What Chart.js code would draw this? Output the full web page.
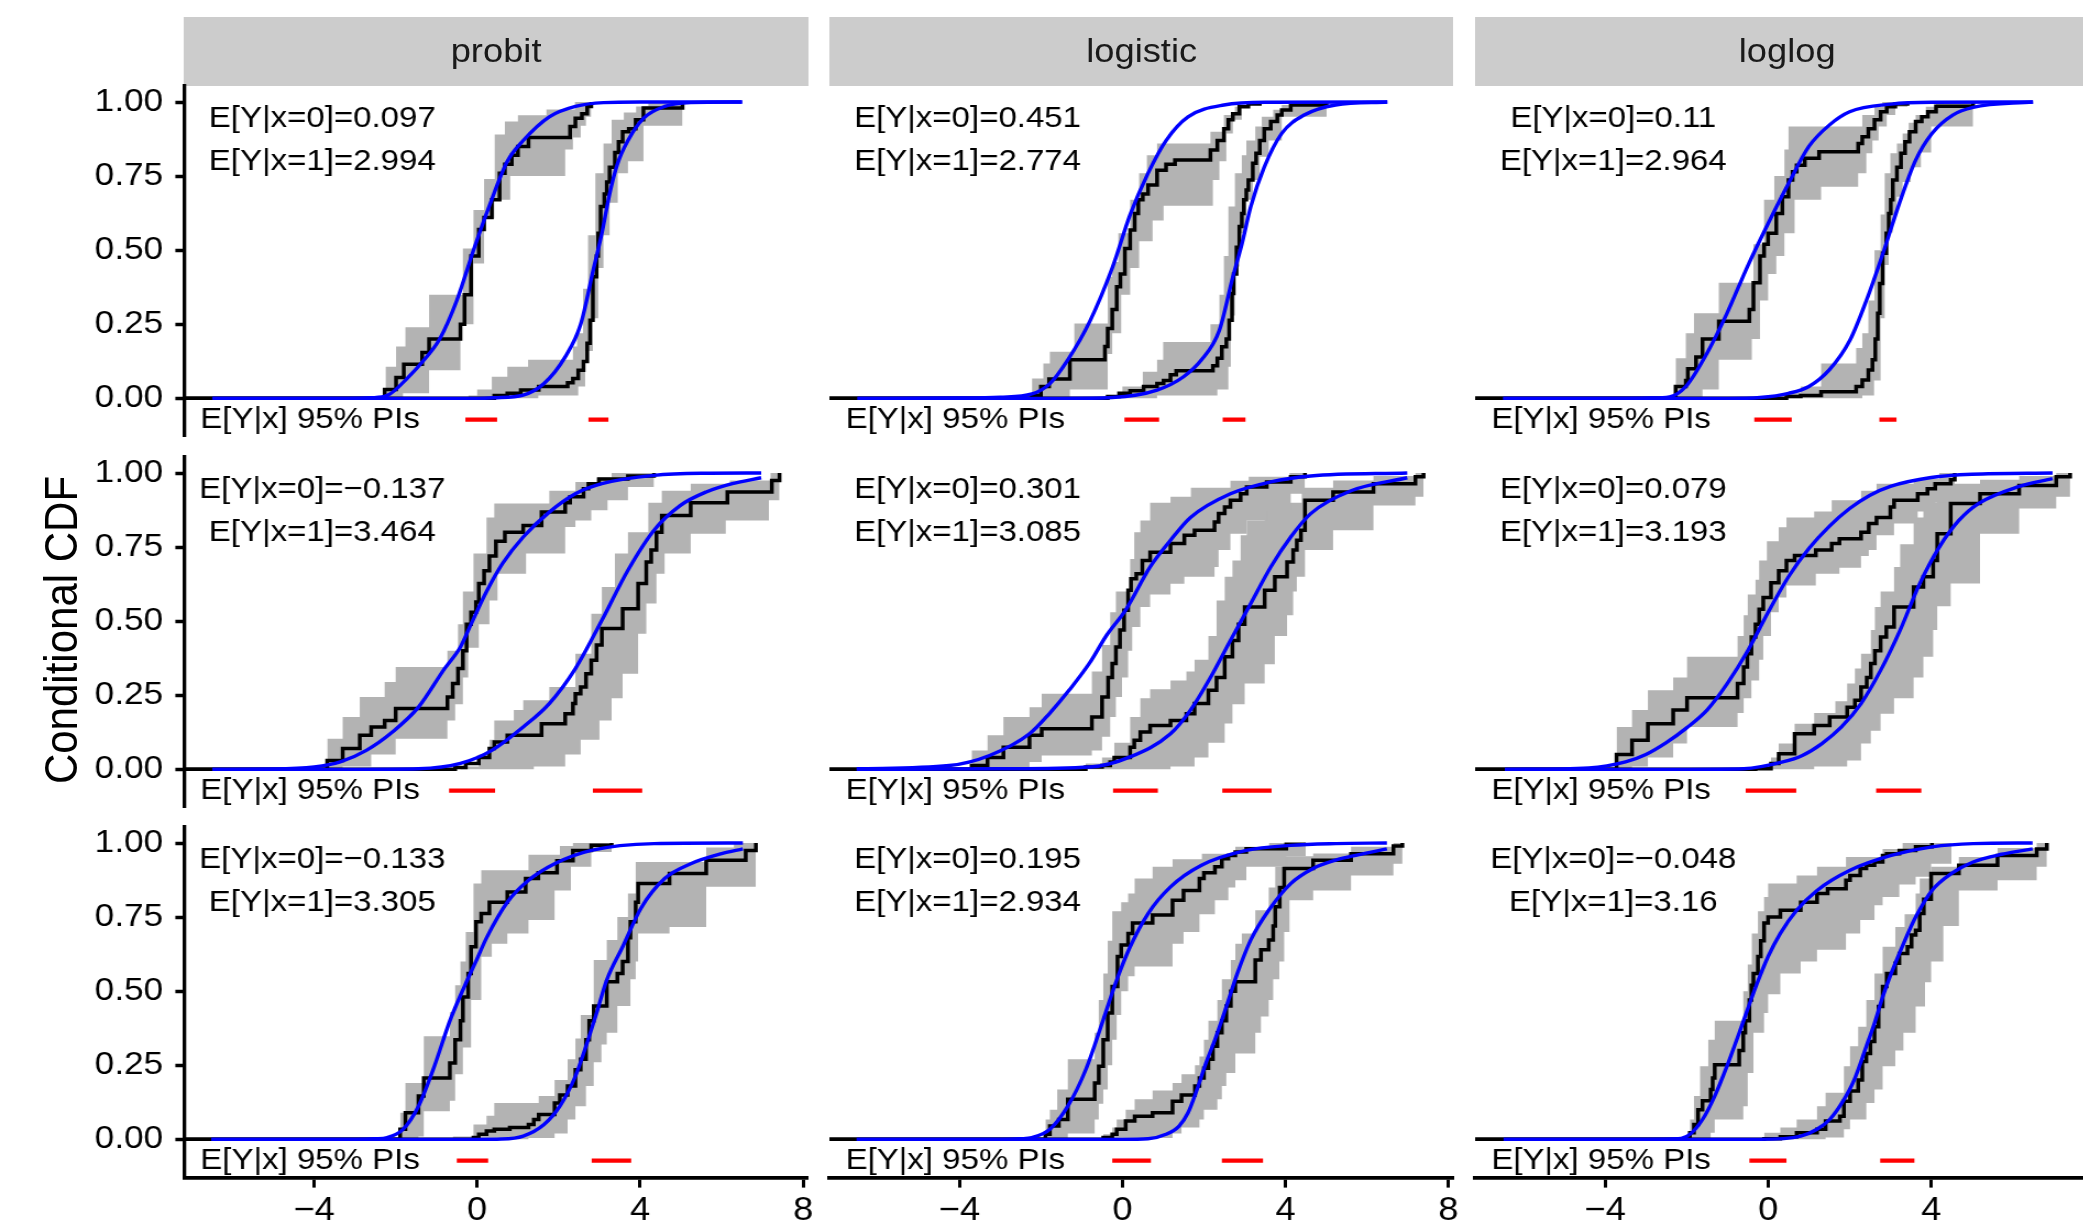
<!DOCTYPE html>
<html>
<head>
<meta charset="utf-8">
<title>Conditional CDF</title>
<script src="https://cdn.jsdelivr.net/npm/chart.js@4/dist/chart.umd.min.js"></script>
<style>
  html, body { margin: 0; padding: 0; background: #ffffff; overflow: hidden; }
  body { width: 2083px; height: 1222px; position: relative; }
  /* the reference is slightly stretched horizontally, so the whole page is too */
  #page { position: absolute; left: 0; top: 0; width: 1894px; height: 1222px;
          transform: scaleX(1.1); transform-origin: 0 0;
          font-family: "Liberation Sans", Arial, sans-serif; }
  #page canvas { position: absolute; }
  .strip { position: absolute; background: #cccccc; color: #1a1a1a; font-size: 33px;
           display: flex; align-items: center; justify-content: center; }
  #ytitle { position: absolute; width: 600px; height: 50px; line-height: 50px; text-align: center;
            font-size: 42px; color: #000; transform: rotate(-90deg); }
</style>
</head>
<body>
<div id="page"></div>
<script>
var linkNames = ["probit", "logistic", "loglog"];
var xTicks = [-4, 0, 4, 8];
var yTicks = [0, 0.25, 0.5, 0.75, 1];
var xRange = [-7.19, 8.12];
var yRange = [-0.129, 1.054];
var meanLabelX = -3.8;
var meanLabelY = [0.945, 0.797];
var piLabelX = -4.1;
var piY = -0.072;

var mean0 = [["0.097", "0.451", "0.11"], ["\u22120.137", "0.301", "0.079"], ["\u22120.133", "0.195", "\u22120.048"]];
var mean1 = [["2.994", "2.774", "2.964"], ["3.464", "3.085", "3.193"], ["3.305", "2.934", "3.16"]];
var pi0 = [[[-0.29, 0.49], [0.05, 0.90], [-0.34, 0.58]],
           [[-0.69, 0.44], [-0.23, 0.87], [-0.55, 0.69]],
           [[-0.50, 0.27], [-0.25, 0.70], [-0.46, 0.45]]];
var pi1 = [[[2.73, 3.22], [2.46, 3.02], [2.73, 3.15]],
           [[2.84, 4.05], [2.45, 3.66], [2.65, 3.76]],
           [[2.81, 3.78], [2.44, 3.45], [2.75, 3.59]]];

// row A, probit
var A_probit_ecdf0 = [[-2.27,0.03],[-1.99,0.07],[-1.80,0.115],[-1.35,0.155],[-1.18,0.2],[-0.41,0.25],[-0.31,0.35],[-0.15,0.48],[0.04,0.57],[0.17,0.61],[0.36,0.67],[0.55,0.76],[0.68,0.79],[0.85,0.82],[1.0,0.85],[1.26,0.88],[2.28,0.917],[2.41,0.945],[2.57,0.96],[2.70,0.985],[2.80,1]];
var A_probit_ecdf1 = [[0.42,0.01],[0.74,0.017],[1.07,0.028],[1.51,0.04],[2.22,0.053],[2.35,0.067],[2.48,0.095],[2.61,0.124],[2.70,0.186],[2.77,0.264],[2.84,0.41],[2.93,0.48],[2.97,0.557],[3.03,0.647],[3.12,0.69],[3.18,0.73],[3.25,0.78],[3.38,0.83],[3.47,0.866],[3.57,0.9],[3.72,0.91],[3.89,0.94],[4.08,0.98],[5.04,1]];
var A_probit_hi0 = [[-2.25,0.107],[-1.99,0.175],[-1.76,0.24],[-1.18,0.35],[-0.35,0.506],[-0.09,0.636],[0.17,0.74],[0.43,0.89],[0.68,0.934],[1.0,0.955],[1.7,0.975],[2.4,1]];
var A_probit_lo0 = [[-1.82,0.017],[-1.18,0.095],[-0.41,0.25],[-0.09,0.455],[0.17,0.607],[0.42,0.67],[0.81,0.75],[2.16,0.84],[2.35,0.88],[2.54,0.92],[2.67,0.95],[2.8,1]];
var A_probit_hi1 = [[-0.22,0.01],[0.0,0.03],[0.36,0.073],[0.74,0.107],[1.25,0.13],[2.35,0.175],[2.45,0.22],[2.6,0.37],[2.72,0.55],[2.9,0.76],[3.1,0.86],[3.3,0.94],[3.6,0.965],[3.9,0.985],[4.2,1]];
var A_probit_lo1 = [[1.5,0.01],[2.48,0.04],[2.65,0.16],[2.84,0.27],[2.97,0.44],[3.1,0.55],[3.25,0.66],[3.45,0.76],[3.7,0.8],[4.08,0.92],[5.04,1]];
var A_probit_fit0 = [[-6.5,0],[-3.2,0],[-2.6,0.002],[-2.2,0.01],[-1.7,0.07],[-1.3,0.13],[-0.92,0.2],[-0.5,0.33],[-0.09,0.5],[0.3,0.65],[0.74,0.8],[1.13,0.87],[1.77,0.95],[2.41,0.985],[3.1,0.998],[4.0,1],[6.5,1]];
var A_probit_fit1 = [[-6.5,0],[0.0,0],[0.42,0.002],[1.13,0.011],[1.64,0.05],[2.16,0.14],[2.54,0.25],[2.86,0.44],[3.06,0.557],[3.25,0.69],[3.44,0.79],[3.7,0.87],[4.08,0.945],[4.6,0.985],[5.24,0.998],[6.5,1]];

// row A, logistic
var A_logistic_ecdf0 = [[-2.22,0.01],[-2.0,0.04],[-1.8,0.065],[-1.29,0.13],[-0.43,0.175],[-0.36,0.236],[-0.25,0.3],[-0.14,0.377],[-0.05,0.42],[0.06,0.506],[0.19,0.568],[0.30,0.624],[0.39,0.67],[0.50,0.69],[0.63,0.72],[0.85,0.77],[1.07,0.79],[1.29,0.804],[2.16,0.838],[2.33,0.87],[2.49,0.91],[2.6,0.94],[2.71,0.96],[2.87,0.984],[3.09,0.993],[3.37,1]];
var A_logistic_ecdf1 = [[-0.36,0.006],[-0.08,0.017],[0.19,0.026],[0.52,0.04],[0.85,0.05],[1.01,0.06],[1.18,0.08],[1.32,0.093],[2.22,0.11],[2.33,0.135],[2.44,0.174],[2.55,0.2],[2.62,0.264],[2.69,0.354],[2.73,0.42],[2.80,0.51],[2.87,0.58],[2.93,0.624],[2.98,0.67],[3.04,0.703],[3.09,0.737],[3.2,0.793],[3.28,0.827],[3.37,0.87],[3.48,0.91],[3.64,0.934],[3.8,0.956],[3.91,0.973],[4.13,0.99],[5.01,1]];
var A_logistic_hi0 = [[-2.22,0.067],[-1.94,0.118],[-1.78,0.157],[-1.18,0.253],[-0.36,0.41],[-0.25,0.46],[-0.1,0.557],[0.19,0.67],[0.41,0.76],[0.6,0.82],[0.85,0.86],[2.16,0.9],[2.49,0.956],[2.76,0.984],[3.04,1]];
var A_logistic_lo0 = [[-1.29,0.03],[-0.36,0.15],[-0.25,0.22],[-0.03,0.35],[0.19,0.44],[0.41,0.53],[0.74,0.6],[1.01,0.65],[2.22,0.737],[2.38,0.8],[2.55,0.894],[2.71,0.94],[2.93,0.99],[3.37,1]];
var A_logistic_hi1 = [[-0.4,0.01],[0.0,0.04],[0.5,0.09],[0.85,0.13],[1.0,0.19],[2.16,0.25],[2.38,0.35],[2.49,0.48],[2.6,0.647],[2.76,0.76],[2.93,0.82],[3.04,0.87],[3.26,0.917],[3.42,0.95],[3.7,0.974],[3.91,0.99],[4.13,1]];
var A_logistic_lo1 = [[0.85,0.01],[2.33,0.03],[2.6,0.107],[2.66,0.28],[2.76,0.445],[2.87,0.557],[3.04,0.67],[3.2,0.737],[3.37,0.815],[3.59,0.87],[3.91,0.95],[5.01,1]];
var A_logistic_fit0 = [[-6.5,0],[-4,0.001],[-3,0.004],[-2.22,0.015],[-1.78,0.05],[-1.34,0.13],[-0.8,0.26],[-0.25,0.44],[0.19,0.62],[0.63,0.76],[1.07,0.87],[1.61,0.95],[2.49,0.99],[3.59,0.999],[6.5,1]];
var A_logistic_fit1 = [[-6.5,0],[-1.5,0],[-0.25,0.003],[0.85,0.028],[1.5,0.073],[1.94,0.13],[2.38,0.23],[2.71,0.41],[2.93,0.52],[3.15,0.647],[3.48,0.78],[3.91,0.894],[4.46,0.956],[5.23,0.99],[6.5,1]];

// row A, loglog
var A_loglog_ecdf0 = [[-2.27,0.04],[-2.02,0.06],[-1.97,0.1],[-1.77,0.14],[-1.61,0.2],[-1.21,0.26],[-0.46,0.3],[-0.36,0.39],[-0.2,0.48],[-0.1,0.52],[0.0,0.557],[0.2,0.624],[0.35,0.68],[0.5,0.737],[0.6,0.765],[0.7,0.787],[0.9,0.81],[1.25,0.832],[2.21,0.86],[2.31,0.883],[2.46,0.91],[2.61,0.94],[2.76,0.967],[2.91,0.984],[3.12,0.993],[3.42,1]];
var A_loglog_ecdf1 = [[0.45,0.006],[0.8,0.01],[1.3,0.022],[2.16,0.04],[2.31,0.062],[2.46,0.096],[2.56,0.13],[2.63,0.2],[2.69,0.287],[2.74,0.388],[2.81,0.49],[2.9,0.557],[2.96,0.624],[3.01,0.67],[3.06,0.737],[3.16,0.78],[3.26,0.827],[3.36,0.866],[3.47,0.9],[3.62,0.934],[3.77,0.95],[3.92,0.967],[4.12,0.986],[5.03,1]];
var A_loglog_hi0 = [[-2.27,0.135],[-2.02,0.22],[-1.82,0.287],[-1.21,0.39],[-0.36,0.52],[-0.1,0.67],[0.15,0.75],[0.4,0.84],[0.5,0.917],[2.31,0.956],[2.61,0.984],[2.8,1]];
var A_loglog_lo0 = [[-1.61,0.03],[-1.21,0.13],[-0.4,0.2],[-0.2,0.33],[0.0,0.42],[0.2,0.48],[0.4,0.557],[0.65,0.67],[1.3,0.714],[2.21,0.76],[2.41,0.827],[2.56,0.87],[2.71,0.917],[2.91,0.956],[3.12,0.984],[3.42,1]];
var A_loglog_hi1 = [[0.45,0.02],[0.8,0.04],[1.3,0.118],[2.16,0.17],[2.31,0.22],[2.46,0.33],[2.61,0.5],[2.76,0.62],[2.86,0.76],[3.0,0.827],[3.16,0.86],[3.3,0.894],[3.45,0.93],[3.62,0.956],[3.87,0.984],[4.12,1]];
var A_loglog_lo1 = [[2.31,0.01],[2.6,0.06],[2.76,0.27],[2.86,0.45],[2.96,0.56],[3.06,0.62],[3.16,0.68],[3.3,0.73],[3.5,0.78],[3.75,0.83],[4.0,0.917],[5.03,1]];
var A_loglog_fit0 = [[-6.5,0],[-3.5,0],[-2.9,0.001],[-2.42,0.005],[-2.02,0.04],[-1.51,0.15],[-1.01,0.287],[-0.51,0.444],[0,0.59],[0.5,0.725],[1.0,0.85],[1.5,0.922],[2.0,0.967],[3.02,0.993],[4.02,0.999],[6.5,1]];
var A_loglog_fit1 = [[-6.5,0],[-1,0],[-0.2,0.003],[0.5,0.017],[1.0,0.04],[1.5,0.096],[2.01,0.197],[2.41,0.33],[2.82,0.49],[3.22,0.658],[3.62,0.804],[4.02,0.894],[4.53,0.956],[5.03,0.982],[6.5,1]];

// row B, probit
var B_probit_ecdf0 = [[-3.68,0.03],[-3.3,0.07],[-2.88,0.115],[-2.6,0.143],[-2.27,0.165],[-2.0,0.205],[-0.73,0.244],[-0.6,0.29],[-0.47,0.34],[-0.35,0.4],[-0.26,0.49],[-0.15,0.53],[-0.03,0.565],[0.04,0.627],[0.17,0.67],[0.3,0.72],[0.46,0.77],[0.68,0.8],[1.13,0.823],[1.58,0.868],[2.16,0.9],[2.28,0.92],[2.61,0.947],[2.73,0.964],[2.99,0.98],[3.7,0.99],[4.34,1]];
var B_probit_ecdf1 = [[-0.54,0.006],[-0.28,0.02],[0.04,0.04],[0.3,0.07],[0.42,0.092],[0.74,0.115],[1.58,0.154],[2.16,0.188],[2.35,0.222],[2.41,0.255],[2.54,0.278],[2.67,0.323],[2.8,0.368],[2.93,0.42],[3.06,0.475],[3.57,0.542],[3.95,0.627],[4.15,0.7],[4.27,0.74],[4.4,0.8],[4.53,0.857],[5.24,0.9],[6.14,0.936],[7.23,0.975],[7.42,1]];
var B_probit_hi0 = [[-3.68,0.103],[-3.3,0.177],[-2.88,0.244],[-2.27,0.295],[-2.0,0.345],[-0.73,0.4],[-0.47,0.49],[-0.35,0.6],[-0.09,0.728],[0.23,0.85],[0.42,0.897],[1.77,0.94],[2.41,0.97],[2.93,0.985],[3.3,1]];
var B_probit_lo0 = [[-3.3,0.01],[-2.6,0.05],[-2.0,0.103],[-0.73,0.165],[-0.54,0.22],[-0.35,0.31],[-0.22,0.41],[0.04,0.49],[0.3,0.57],[0.5,0.66],[1.2,0.728],[2.16,0.818],[2.41,0.84],[2.8,0.874],[3.2,0.908],[3.7,0.953],[4.34,1]];
var B_probit_hi1 = [[-0.4,0.01],[0.04,0.05],[0.3,0.1],[0.42,0.165],[0.9,0.2],[1.13,0.233],[1.77,0.278],[2.41,0.39],[2.8,0.525],[3.06,0.615],[3.38,0.728],[3.7,0.8],[4.2,0.9],[4.53,0.94],[5.24,0.964],[6.2,0.975],[7.2,1]];
var B_probit_lo1 = [[1.39,0.01],[2.16,0.05],[2.54,0.1],[3.0,0.165],[3.3,0.24],[3.57,0.323],[3.95,0.458],[4.15,0.56],[4.4,0.66],[4.6,0.728],[5.24,0.795],[6.1,0.84],[7.16,0.908],[7.42,1]];
var B_probit_fit0 = [[-6.5,0],[-5,0.001],[-4,0.008],[-3.36,0.025],[-2.72,0.064],[-2.08,0.126],[-1.44,0.21],[-0.8,0.34],[-0.41,0.413],[-0.15,0.49],[0.23,0.6],[0.62,0.694],[1.13,0.784],[1.77,0.868],[2.41,0.93],[3.06,0.964],[4.34,0.992],[5.5,0.999],[6.97,1]];
var B_probit_fit1 = [[-6.5,0],[-3,0],[-1.44,0.002],[-0.41,0.02],[0.36,0.064],[1.13,0.143],[1.77,0.222],[2.41,0.34],[3.06,0.503],[3.7,0.672],[4.34,0.807],[4.98,0.89],[5.62,0.936],[6.26,0.964],[6.97,0.984]];

// row B, logistic
var B_logistic_ecdf0 = [[-3.7,0.013],[-3.31,0.04],[-2.92,0.075],[-2.28,0.115],[-1.98,0.137],[-0.75,0.177],[-0.5,0.244],[-0.35,0.31],[-0.25,0.357],[-0.16,0.413],[-0.06,0.47],[0.04,0.537],[0.14,0.604],[0.21,0.643],[0.34,0.66],[0.49,0.705],[0.68,0.733],[1.18,0.762],[1.52,0.79],[1.77,0.807],[2.26,0.835],[2.36,0.863],[2.51,0.885],[2.65,0.908],[2.9,0.93],[3.05,0.953],[3.54,0.97],[4.13,0.987],[4.48,1]];
var B_logistic_ecdf1 = [[-0.9,0.008],[-0.5,0.013],[-0.3,0.025],[-0.2,0.04],[0.19,0.075],[0.29,0.098],[0.44,0.126],[0.68,0.148],[1.18,0.165],[1.57,0.188],[1.77,0.222],[2.11,0.267],[2.31,0.31],[2.51,0.38],[2.7,0.435],[2.85,0.49],[3.0,0.548],[3.49,0.604],[3.74,0.65],[4.04,0.7],[4.19,0.74],[4.28,0.773],[4.38,0.807],[4.48,0.908],[5.17,0.936],[6.16,0.964],[7.19,0.987],[7.39,1]];
var B_logistic_hi0 = [[-3.7,0.064],[-3.31,0.115],[-2.92,0.177],[-2.28,0.21],[-1.98,0.255],[-0.75,0.33],[-0.5,0.42],[-0.3,0.53],[-0.16,0.6],[0.19,0.71],[0.29,0.8],[0.44,0.84],[0.68,0.9],[1.18,0.92],[1.68,0.95],[2.65,0.974],[3.1,0.987],[4.1,1]];
var B_logistic_lo0 = [[-2.28,0.025],[-1.98,0.047],[-0.75,0.064],[-0.5,0.11],[-0.3,0.177],[-0.16,0.244],[-0.01,0.31],[0.14,0.4],[0.24,0.48],[0.44,0.548],[0.68,0.59],[1.18,0.626],[1.52,0.65],[2.26,0.683],[2.36,0.74],[2.65,0.795],[3.05,0.84],[3.54,0.874],[4.13,0.93],[4.48,1]];
var B_logistic_hi1 = [[-0.9,0.02],[-0.5,0.04],[-0.2,0.09],[0.19,0.177],[0.44,0.24],[0.68,0.27],[1.18,0.3],[1.57,0.33],[1.77,0.37],[2.11,0.45],[2.31,0.57],[2.51,0.65],[2.7,0.705],[2.9,0.79],[3.05,0.84],[3.49,0.9],[4.4,0.95],[5.17,0.975],[6.16,0.99],[7.19,1]];
var B_logistic_lo1 = [[1.18,0.01],[1.77,0.04],[2.11,0.09],[2.51,0.155],[2.7,0.22],[3.0,0.29],[3.49,0.355],[3.74,0.45],[4.04,0.52],[4.19,0.6],[4.28,0.65],[4.48,0.74],[5.17,0.807],[6.16,0.89],[7.19,0.92],[7.39,1]];
var B_logistic_fit0 = [[-6.52,0.002],[-4.25,0.013],[-3.26,0.047],[-2.28,0.12],[-1.78,0.19],[-1.29,0.27],[-0.8,0.36],[-0.4,0.45],[0.09,0.54],[0.68,0.683],[1.18,0.773],[1.67,0.85],[2.65,0.93],[3.64,0.97],[4.62,0.99],[6.99,1]];
var B_logistic_fit1 = [[-6.52,0],[-3,0.002],[-0.79,0.008],[0.19,0.042],[1.18,0.12],[1.67,0.2],[2.16,0.31],[2.65,0.435],[3.15,0.56],[3.64,0.683],[4.13,0.784],[4.62,0.863],[5.61,0.94],[6.99,0.984]];

// row B, loglog
var B_loglog_ecdf0 = [[-3.72,0.05],[-3.34,0.098],[-2.95,0.154],[-2.33,0.2],[-1.99,0.242],[-0.75,0.29],[-0.6,0.345],[-0.51,0.39],[-0.41,0.447],[-0.31,0.49],[-0.22,0.54],[-0.12,0.58],[0.07,0.63],[0.26,0.67],[0.45,0.705],[0.65,0.722],[1.17,0.74],[1.56,0.762],[1.75,0.778],[2.28,0.8],[2.47,0.83],[2.66,0.85],[3.0,0.885],[3.09,0.908],[3.67,0.93],[3.91,0.947],[4.1,0.964],[4.48,0.977],[4.58,1]];
var B_loglog_ecdf1 = [[-0.31,0.002],[0.07,0.02],[0.26,0.053],[0.65,0.12],[1.13,0.148],[1.51,0.177],[1.94,0.21],[2.13,0.233],[2.28,0.278],[2.42,0.31],[2.52,0.357],[2.62,0.4],[2.76,0.447],[2.9,0.48],[3.09,0.548],[3.57,0.615],[3.81,0.65],[4.05,0.705],[4.15,0.795],[4.48,0.897],[5.2,0.93],[6.16,0.958],[7.07,0.987],[7.41,1]];
var B_loglog_hi0 = [[-3.72,0.143],[-3.34,0.2],[-2.95,0.267],[-2.33,0.31],[-1.99,0.38],[-0.75,0.45],[-0.6,0.52],[-0.5,0.59],[-0.31,0.64],[-0.22,0.705],[-0.03,0.77],[0.26,0.817],[0.45,0.85],[1.13,0.87],[1.56,0.908],[2.28,0.94],[2.66,0.964],[3.57,0.98],[4.2,1]];
var B_loglog_lo0 = [[-3.34,0.01],[-2.95,0.04],[-2.33,0.087],[-1.99,0.143],[-0.75,0.19],[-0.6,0.24],[-0.41,0.3],[-0.22,0.37],[-0.12,0.45],[0.07,0.53],[0.26,0.58],[0.45,0.62],[1.17,0.66],[1.75,0.68],[2.28,0.72],[2.47,0.74],[2.66,0.79],[3.09,0.83],[3.67,0.87],[4.1,0.9],[4.58,1]];
var B_loglog_hi1 = [[-0.31,0.01],[0.07,0.04],[0.26,0.087],[0.65,0.154],[1.13,0.19],[1.65,0.23],[1.94,0.29],[2.13,0.34],[2.28,0.39],[2.52,0.47],[2.62,0.548],[2.76,0.6],[3.09,0.683],[3.24,0.76],[3.57,0.85],[3.81,0.9],[4.15,0.94],[4.48,0.964],[5.2,0.977],[6.16,0.99],[7.07,1]];
var B_loglog_lo1 = [[1.13,0.01],[1.94,0.03],[2.28,0.087],[2.52,0.13],[2.76,0.188],[3.09,0.24],[3.57,0.31],[3.81,0.38],[4.05,0.47],[4.15,0.55],[4.48,0.627],[5.2,0.795],[6.16,0.88],[7.07,0.92],[7.41,1]];
var B_loglog_fit0 = [[-6.46,0],[-4.4,0.005],[-3.5,0.025],[-3.0,0.05],[-2.5,0.09],[-2.0,0.14],[-1.5,0.2],[-1.0,0.29],[-0.5,0.4],[0,0.53],[0.5,0.65],[1.0,0.745],[1.5,0.82],[2.0,0.88],[2.5,0.925],[3.0,0.955],[4.0,0.985],[5.0,0.996],[6.98,1]];
var B_loglog_fit1 = [[-6.46,0],[-2,0],[-0.6,0.002],[0.36,0.025],[0.84,0.047],[1.32,0.087],[1.8,0.143],[2.28,0.222],[2.76,0.334],[3.24,0.47],[3.72,0.627],[4.2,0.75],[4.68,0.84],[5.16,0.897],[6.12,0.953],[6.98,0.981]];

// row C, probit
var C_probit_ecdf0 = [[-1.89,0.034],[-1.76,0.09],[-1.44,0.146],[-1.31,0.207],[-0.67,0.258],[-0.54,0.336],[-0.41,0.4],[-0.35,0.48],[-0.22,0.56],[-0.15,0.65],[-0.03,0.734],[0.1,0.762],[0.3,0.8],[0.74,0.835],[1.19,0.88],[1.5,0.9],[1.96,0.94],[2.35,0.975],[2.8,0.992],[3.3,1]];
var C_probit_ecdf1 = [[-0.09,0.006],[0.04,0.017],[0.23,0.028],[0.42,0.034],[0.8,0.04],[1.26,0.05],[1.39,0.067],[1.51,0.084],[1.9,0.123],[2.03,0.15],[2.22,0.18],[2.41,0.235],[2.54,0.27],[2.67,0.336],[2.75,0.4],[2.86,0.45],[3.18,0.532],[3.44,0.56],[3.57,0.6],[3.7,0.68],[3.76,0.734],[3.89,0.8],[3.95,0.863],[4.72,0.897],[5.62,0.942],[6.59,0.975],[6.84,1]];
var C_probit_hi0 = [[-1.89,0.09],[-1.76,0.19],[-1.31,0.348],[-0.67,0.43],[-0.54,0.52],[-0.41,0.6],[-0.28,0.7],[-0.09,0.863],[0.1,0.908],[1.26,0.96],[2.03,0.99],[2.35,1]];
var C_probit_lo0 = [[-1.44,0.01],[-1.31,0.095],[-0.67,0.13],[-0.54,0.22],[-0.35,0.31],[-0.15,0.47],[0.1,0.616],[0.36,0.66],[0.74,0.695],[1.26,0.74],[1.9,0.84],[2.3,0.92],[2.8,0.97],[3.3,1]];
var C_probit_hi1 = [[-0.6,0.01],[-0.09,0.05],[0.23,0.08],[0.42,0.123],[1.51,0.146],[1.9,0.2],[2.22,0.27],[2.41,0.34],[2.54,0.42],[2.86,0.605],[3.18,0.673],[3.44,0.75],[3.7,0.83],[3.89,0.936],[5.62,0.985],[6.3,1]];
var C_probit_lo1 = [[1.26,0.005],[1.9,0.02],[2.22,0.067],[2.41,0.112],[2.67,0.18],[2.86,0.26],[3.05,0.32],[3.18,0.36],[3.44,0.45],[3.76,0.54],[3.89,0.6],[3.95,0.695],[4.72,0.717],[5.62,0.852],[6.84,1]];
var C_probit_fit0 = [[-6.52,0],[-3,0],[-2.5,0.002],[-2.21,0.006],[-1.82,0.034],[-1.44,0.112],[-1.05,0.247],[-0.67,0.4],[-0.3,0.52],[0.0,0.61],[0.23,0.68],[0.74,0.8],[1.26,0.874],[1.9,0.93],[2.8,0.975],[4.34,0.998],[6.52,1]];
var C_probit_fit1 = [[-6.52,0],[0.0,0],[0.6,0.001],[1.13,0.011],[1.64,0.05],[2.03,0.112],[2.41,0.213],[2.67,0.314],[2.93,0.426],[3.18,0.538],[3.57,0.65],[4.02,0.78],[4.6,0.88],[5.24,0.93],[6.0,0.964],[6.52,0.98]];

// row C, logistic
var C_logistic_ecdf0 = [[-1.89,0.017],[-1.78,0.045],[-1.56,0.067],[-1.34,0.135],[-0.68,0.19],[-0.58,0.247],[-0.47,0.336],[-0.36,0.426],[-0.25,0.516],[-0.12,0.617],[-0.03,0.656],[0.14,0.695],[0.25,0.73],[0.74,0.757],[1.23,0.807],[1.5,0.84],[1.89,0.88],[2.0,0.9],[2.27,0.92],[2.44,0.947],[2.6,0.958],[2.77,0.97],[3.04,0.981],[4.02,0.996],[4.5,1]];
var C_logistic_ecdf1 = [[-0.47,0.006],[-0.25,0.017],[-0.14,0.034],[0.08,0.062],[0.3,0.078],[0.74,0.09],[1.23,0.129],[1.45,0.15],[1.78,0.18],[1.89,0.207],[2.0,0.24],[2.11,0.27],[2.22,0.314],[2.33,0.36],[2.44,0.4],[2.55,0.45],[2.66,0.5],[2.77,0.532],[3.26,0.605],[3.4,0.64],[3.59,0.673],[3.7,0.72],[3.75,0.785],[3.86,0.85],[3.97,0.914],[4.68,0.942],[5.61,0.964],[6.65,0.99],[6.87,1]];
var C_logistic_hi0 = [[-1.89,0.067],[-1.78,0.1],[-1.6,0.168],[-1.34,0.27],[-0.68,0.36],[-0.58,0.47],[-0.47,0.56],[-0.36,0.67],[-0.25,0.77],[-0.03,0.8],[0.14,0.83],[0.3,0.88],[0.74,0.92],[1.23,0.945],[1.95,0.964],[2.77,0.987],[3.6,1]];
var C_logistic_lo0 = [[-1.34,0.02],[-0.68,0.067],[-0.58,0.12],[-0.47,0.168],[-0.36,0.25],[-0.25,0.336],[-0.14,0.42],[-0.03,0.5],[0.14,0.55],[0.3,0.583],[1.23,0.66],[1.5,0.7],[1.89,0.76],[2.27,0.807],[2.6,0.85],[2.77,0.874],[3.04,0.92],[4.02,0.955],[4.5,1]];
var C_logistic_hi1 = [[-0.47,0.017],[-0.25,0.04],[-0.14,0.067],[0.08,0.1],[0.3,0.135],[0.74,0.165],[1.23,0.19],[1.45,0.22],[1.78,0.25],[1.89,0.28],[2.0,0.336],[2.11,0.4],[2.33,0.47],[2.44,0.54],[2.66,0.605],[2.77,0.66],[2.93,0.695],[3.26,0.773],[3.59,0.85],[3.75,0.92],[3.97,0.955],[4.68,0.965],[5.61,0.987],[6.65,1]];
var C_logistic_lo1 = [[0.74,0.005],[1.23,0.02],[1.45,0.04],[1.89,0.067],[2.0,0.1],[2.33,0.135],[2.44,0.18],[2.55,0.224],[2.77,0.29],[3.26,0.36],[3.4,0.415],[3.59,0.47],[3.7,0.54],[3.85,0.6],[3.97,0.7],[4.1,0.807],[4.68,0.84],[5.61,0.89],[6.65,0.93],[6.87,1]];
var C_logistic_fit0 = [[-6.52,0],[-3,0],[-2.5,0.002],[-2.22,0.006],[-1.78,0.034],[-1.34,0.112],[-0.9,0.235],[-0.47,0.404],[-0.14,0.538],[0.19,0.65],[0.63,0.762],[1.18,0.852],[1.94,0.925],[3.04,0.975],[4.13,0.992],[5.23,0.998],[6.49,1]];
var C_logistic_fit1 = [[-6.52,0],[0.0,0],[0.63,0.002],[1.07,0.017],[1.39,0.045],[1.61,0.09],[1.83,0.168],[2.05,0.258],[2.27,0.336],[2.55,0.448],[2.82,0.56],[3.15,0.673],[3.59,0.773],[4.13,0.863],[4.68,0.914],[5.23,0.942],[5.78,0.96],[6.49,0.98]];

// row C, loglog
var C_loglog_ecdf0 = [[-1.92,0.022],[-1.82,0.05],[-1.72,0.1],[-1.61,0.13],[-1.41,0.168],[-1.36,0.207],[-1.31,0.252],[-0.71,0.3],[-0.61,0.36],[-0.56,0.4],[-0.46,0.47],[-0.41,0.52],[-0.36,0.56],[-0.25,0.617],[-0.18,0.67],[-0.1,0.73],[0.0,0.75],[0.3,0.773],[0.8,0.8],[1.2,0.83],[1.46,0.846],[1.91,0.874],[2.01,0.89],[2.26,0.914],[2.41,0.925],[2.61,0.936],[2.81,0.958],[2.91,0.964],[3.22,0.975],[3.62,0.987],[4.02,1]];
var C_loglog_ecdf1 = [[-0.1,0.002],[0.3,0.009],[0.7,0.022],[1.2,0.034],[1.41,0.062],[1.76,0.078],[1.86,0.129],[2.01,0.163],[2.21,0.2],[2.31,0.263],[2.41,0.29],[2.51,0.33],[2.61,0.38],[2.71,0.448],[2.81,0.516],[2.91,0.56],[3.12,0.594],[3.22,0.627],[3.42,0.65],[3.52,0.69],[3.62,0.706],[3.72,0.762],[3.82,0.81],[4.0,0.897],[4.68,0.925],[5.63,0.958],[6.59,0.98],[6.84,1]];
var C_loglog_hi0 = [[-1.92,0.067],[-1.82,0.146],[-1.67,0.247],[-1.47,0.336],[-1.31,0.4],[-0.61,0.5],[-0.5,0.59],[-0.4,0.695],[-0.25,0.77],[-0.1,0.818],[0.0,0.863],[0.7,0.89],[1.2,0.92],[1.91,0.953],[2.81,0.98],[3.3,1]];
var C_loglog_lo0 = [[-1.41,0.022],[-1.31,0.067],[-0.61,0.112],[-0.5,0.224],[-0.36,0.36],[-0.1,0.426],[0.0,0.49],[0.3,0.56],[0.8,0.6],[1.2,0.64],[1.91,0.695],[2.26,0.74],[2.61,0.79],[2.81,0.818],[3.22,0.86],[3.62,0.886],[4.0,0.93],[4.5,1]];
var C_loglog_hi1 = [[-0.1,0.022],[0.3,0.04],[0.7,0.067],[1.2,0.112],[1.41,0.157],[1.86,0.247],[2.01,0.314],[2.21,0.38],[2.41,0.47],[2.61,0.56],[2.81,0.65],[3.12,0.717],[3.35,0.76],[3.62,0.83],[3.72,0.88],[4.0,0.92],[4.68,0.953],[5.63,0.983],[6.59,1]];
var C_loglog_lo1 = [[1.41,0.006],[1.86,0.034],[2.01,0.067],[2.41,0.123],[2.61,0.168],[2.81,0.247],[3.12,0.3],[3.32,0.36],[3.62,0.448],[3.85,0.53],[4.0,0.6],[4.3,0.72],[4.68,0.84],[5.63,0.874],[6.59,0.92],[6.84,1]];
var C_loglog_fit0 = [[-6.49,0],[-3,0],[-2.21,0.002],[-1.92,0.017],[-1.61,0.067],[-1.31,0.146],[-1.01,0.247],[-0.71,0.359],[-0.3,0.516],[0,0.617],[0.3,0.695],[0.7,0.773],[1.2,0.84],[2.01,0.908],[3.02,0.958],[4.02,0.987],[5.03,0.998],[6.49,1]];
var C_loglog_fit1 = [[-6.49,0],[-0.2,0],[0.8,0.011],[1.2,0.034],[1.51,0.067],[1.81,0.123],[2.11,0.2],[2.41,0.314],[2.61,0.392],[2.81,0.48],[3.02,0.56],[3.32,0.66],[3.62,0.75],[4.02,0.84],[4.53,0.9],[5.03,0.936],[5.73,0.962],[6.49,0.98]];

// layout of the 3x3 grid (page units before the horizontal stretch)
var panelLeft = [167.4, 754.3, 1341.2];
var panelW = 567.2;
var panelTop = [85.7, 456.6, 826.8];
var panelH = 350.6;
var stripTop = 17;
var stripH = 68.7;
var bandGrey = "#b3b3b3";
var fontFamily = '"Liberation Sans", Arial, sans-serif';

function pack(ecdf0, ecdf1, hi0, lo0, hi1, lo1, fit0, fit1) {
    return {ecdf0: ecdf0, ecdf1: ecdf1, hi0: hi0, lo0: lo0, hi1: hi1, lo1: lo1, fit0: fit0, fit1: fit1};
}

var panels = [
    [pack(A_probit_ecdf0, A_probit_ecdf1, A_probit_hi0, A_probit_lo0, A_probit_hi1, A_probit_lo1, A_probit_fit0, A_probit_fit1),
     pack(A_logistic_ecdf0, A_logistic_ecdf1, A_logistic_hi0, A_logistic_lo0, A_logistic_hi1, A_logistic_lo1, A_logistic_fit0, A_logistic_fit1),
     pack(A_loglog_ecdf0, A_loglog_ecdf1, A_loglog_hi0, A_loglog_lo0, A_loglog_hi1, A_loglog_lo1, A_loglog_fit0, A_loglog_fit1)],
    [pack(B_probit_ecdf0, B_probit_ecdf1, B_probit_hi0, B_probit_lo0, B_probit_hi1, B_probit_lo1, B_probit_fit0, B_probit_fit1),
     pack(B_logistic_ecdf0, B_logistic_ecdf1, B_logistic_hi0, B_logistic_lo0, B_logistic_hi1, B_logistic_lo1, B_logistic_fit0, B_logistic_fit1),
     pack(B_loglog_ecdf0, B_loglog_ecdf1, B_loglog_hi0, B_loglog_lo0, B_loglog_hi1, B_loglog_lo1, B_loglog_fit0, B_loglog_fit1)],
    [pack(C_probit_ecdf0, C_probit_ecdf1, C_probit_hi0, C_probit_lo0, C_probit_hi1, C_probit_lo1, C_probit_fit0, C_probit_fit1),
     pack(C_logistic_ecdf0, C_logistic_ecdf1, C_logistic_hi0, C_logistic_lo0, C_logistic_hi1, C_logistic_lo1, C_logistic_fit0, C_logistic_fit1),
     pack(C_loglog_ecdf0, C_loglog_ecdf1, C_loglog_hi0, C_loglog_lo0, C_loglog_hi1, C_loglog_lo1, C_loglog_fit0, C_loglog_fit1)]
];

// turn a list of [x, y] jumps into step corners
function steps(jumps, startX, endX) {
    var pts = [{x: startX, y: 0}];
    var prev = 0;
    for (let i = 0; i < jumps.length; i++) {
        pts.push({x: jumps[i][0], y: prev});
        pts.push({x: jumps[i][0], y: jumps[i][1]});
        prev = jumps[i][1];
    }
    if (endX !== undefined && endX > jumps[jumps.length - 1][0]) {
        pts.push({x: endX, y: prev});
    }
    return pts;
}

function toPoints(arr) {
    return arr.map(function (p) { return {x: p[0], y: p[1]}; });
}

function bandSets(hi, lo, firstIndex) {
    var x0 = Math.min(hi[0][0], lo[0][0]);
    var x1 = Math.max(hi[hi.length - 1][0], lo[lo.length - 1][0]);
    return [
        {data: steps(hi, x0, x1), borderWidth: 0, borderColor: "rgba(0,0,0,0)", pointRadius: 0, fill: false, order: 4},
        {data: steps(lo, x0, x1), borderWidth: 0, borderColor: "rgba(0,0,0,0)", pointRadius: 0,
         backgroundColor: bandGrey, fill: firstIndex, order: 4}
    ];
}

var panelText = {
    id: "panelText",
    afterDatasetsDraw: function (chart, args, opts) {
        var ctx = chart.ctx;
        var xs = chart.scales.x, ys = chart.scales.y;
        ctx.save();
        ctx.fillStyle = "#000";
        ctx.font = "30px " + fontFamily;
        ctx.textAlign = "center";
        ctx.textBaseline = "middle";
        ctx.fillText("E[Y|x=0]=" + opts.m0, xs.getPixelForValue(meanLabelX), ys.getPixelForValue(meanLabelY[0]));
        ctx.fillText("E[Y|x=1]=" + opts.m1, xs.getPixelForValue(meanLabelX), ys.getPixelForValue(meanLabelY[1]));
        ctx.fillText("E[Y|x] 95% PIs", xs.getPixelForValue(piLabelX), ys.getPixelForValue(piY));
        ctx.restore();
    }
};

function makePanel(page, r, c) {
    var d = panels[r][c];
    var bottomRow = r === 2;
    var leftCol = c === 0;
    var left = leftCol ? 0 : panelLeft[c] - 6;
    var top = panelTop[r] - 6;
    var w = Math.round(panelLeft[c] + panelW + 24 - left);
    var h = bottomRow ? Math.round(1222 - top) : Math.round(panelH + 12);
    var padRight = w - (panelLeft[c] + panelW - left);
    var xAxisH = h - 6 - panelH;

    var canvas = document.createElement("canvas");
    canvas.width = w;
    canvas.height = h;
    canvas.style.left = left + "px";
    canvas.style.top = top + "px";
    canvas.style.width = w + "px";
    canvas.style.height = h + "px";
    page.appendChild(canvas);

    var datasets = bandSets(d.hi0, d.lo0, 0).concat(bandSets(d.hi1, d.lo1, 2));
    datasets.push({data: steps(d.ecdf0, xRange[0]), borderColor: "#000", borderWidth: 3.5, pointRadius: 0, fill: false, order: 3});
    datasets.push({data: steps(d.ecdf1, xRange[0]), borderColor: "#000", borderWidth: 3.5, pointRadius: 0, fill: false, order: 3});
    datasets.push({data: toPoints(d.fit0), borderColor: "#0000ff", borderWidth: 3.4, pointRadius: 0, fill: false,
                   cubicInterpolationMode: "monotone", order: 2});
    datasets.push({data: toPoints(d.fit1), borderColor: "#0000ff", borderWidth: 3.4, pointRadius: 0, fill: false,
                   cubicInterpolationMode: "monotone", order: 2});
    datasets.push({data: [{x: pi0[r][c][0], y: piY}, {x: pi0[r][c][1], y: piY}], borderColor: "#ff0000",
                   borderWidth: 4.3, pointRadius: 0, fill: false, order: 1});
    datasets.push({data: [{x: pi1[r][c][0], y: piY}, {x: pi1[r][c][1], y: piY}], borderColor: "#ff0000",
                   borderWidth: 4.3, pointRadius: 0, fill: false, order: 1});

    new Chart(canvas, {
        type: "line",
        data: {datasets: datasets},
        options: {
            responsive: false,
            animation: false,
            devicePixelRatio: 1,
            events: [],
            layout: {padding: {left: leftCol ? 0 : 6, top: 6, right: padRight, bottom: bottomRow ? 0 : xAxisH}},
            plugins: {
                legend: {display: false},
                tooltip: {enabled: false},
                panelText: {m0: mean0[r][c], m1: mean1[r][c]}
            },
            scales: {
                x: {
                    type: "linear",
                    min: xRange[0],
                    max: xRange[1],
                    display: bottomRow,
                    afterBuildTicks: function (s) { s.ticks = xTicks.map(function (v) { return {value: v}; }); },
                    afterFit: function (s) {
                        if (bottomRow) { s.height = xAxisH; }
                        s.paddingLeft = 0;
                        s.paddingRight = 0;
                    },
                    ticks: {
                        autoSkip: false, maxRotation: 0, color: "#000", padding: 4,
                        font: {size: 33, family: fontFamily},
                        callback: function (v) { return v < 0 ? "\u2212" + Math.abs(v) : String(v); }
                    },
                    grid: {display: true, drawOnChartArea: false, drawTicks: true, tickLength: 10, tickWidth: 3, tickColor: "#000"},
                    border: {display: true, color: "#000", width: 3.7}
                },
                y: {
                    type: "linear",
                    min: yRange[0],
                    max: yRange[1],
                    display: leftCol,
                    afterBuildTicks: function (s) { s.ticks = yTicks.map(function (v) { return {value: v}; }); },
                    afterFit: function (s) {
                        if (leftCol) { s.width = panelLeft[0]; }
                        s.paddingTop = 0;
                        s.paddingBottom = 0;
                    },
                    ticks: {
                        autoSkip: false, color: "#000", padding: 11,
                        font: {size: 32, family: fontFamily},
                        callback: function (v) { return v.toFixed(2); }
                    },
                    grid: {display: true, drawOnChartArea: false, drawTicks: true, tickLength: 8, tickWidth: 3.5, tickColor: "#000"},
                    border: {display: true, color: "#000", width: 3.3}
                }
            }
        },
        plugins: [panelText]
    });
}

document.addEventListener("DOMContentLoaded", function () {
    Chart.defaults.font.family = fontFamily;
    Chart.defaults.color = "#000";
    var page = document.getElementById("page");

    for (let c = 0; c < 3; c++) {
        var strip = document.createElement("div");
        strip.className = "strip";
        strip.style.left = panelLeft[c] + "px";
        strip.style.top = stripTop + "px";
        strip.style.width = panelW + "px";
        strip.style.height = stripH + "px";
        strip.textContent = linkNames[c];
        page.appendChild(strip);
    }

    var yTitle = document.createElement("div");
    yTitle.id = "ytitle";
    yTitle.textContent = "Conditional CDF";
    yTitle.style.left = (56.4 - 300) + "px";
    yTitle.style.top = (630 - 25) + "px";
    page.appendChild(yTitle);

    for (let r = 0; r < 3; r++) {
        for (let c = 0; c < 3; c++) {
            makePanel(page, r, c);
        }
    }
});
</script>
</body>
</html>
